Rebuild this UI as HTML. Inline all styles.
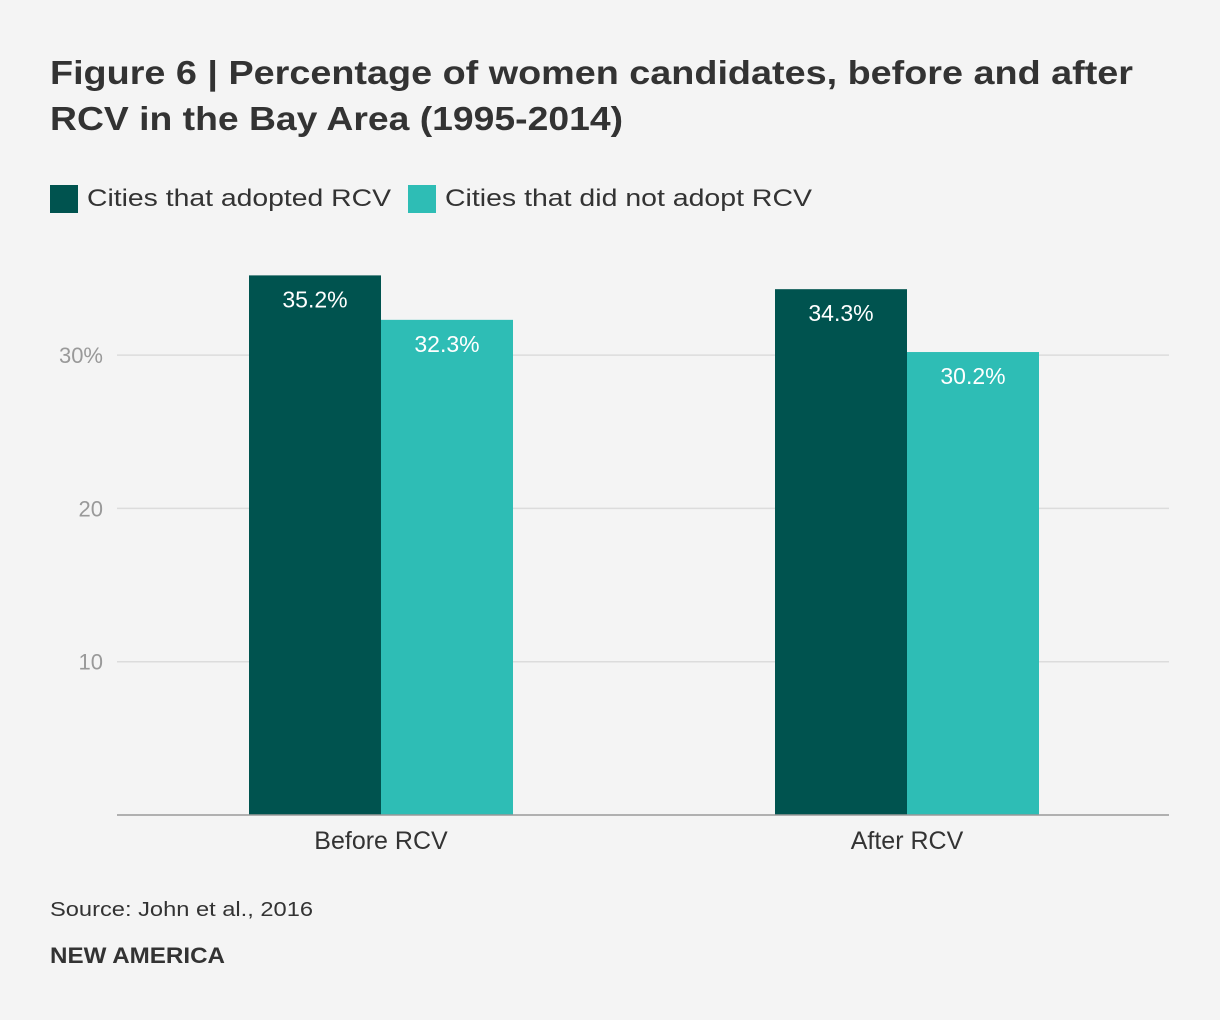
<!DOCTYPE html>
<html><head><meta charset="utf-8"><style>
body{margin:0;background:#f4f4f4;font-family:"Liberation Sans",Arial,sans-serif;}
svg{display:block}
</style></head><body>
<svg width="1220" height="1020">
<rect width="1220" height="1020" fill="#f4f4f4"/>
<text x="50" y="84" font-size="33" font-weight="bold" fill="#333" textLength="1083" lengthAdjust="spacingAndGlyphs">Figure 6 | Percentage of women candidates, before and after</text>
<text x="50" y="130" font-size="33" font-weight="bold" fill="#333" textLength="573" lengthAdjust="spacingAndGlyphs">RCV in the Bay Area (1995-2014)</text>
<g>
<rect x="50" y="185" width="28" height="28" fill="#00534f"/>
<text x="87" y="206" font-size="24" fill="#333" textLength="304" lengthAdjust="spacingAndGlyphs">Cities that adopted RCV</text>
<rect x="408" y="185" width="28" height="28" fill="#2ebdb5"/>
<text x="445" y="206" font-size="24" fill="#333" textLength="367" lengthAdjust="spacingAndGlyphs">Cities that did not adopt RCV</text>
</g>
<g id="plot"></g>
<text x="50" y="916" font-size="20" fill="#333" textLength="263" lengthAdjust="spacingAndGlyphs">Source: John et al., 2016</text>
<text x="50" y="963" font-size="22" font-weight="bold" fill="#333" textLength="175" lengthAdjust="spacingAndGlyphs">NEW AMERICA</text>
</svg>
<script>
const categories = ["Before RCV","After RCV"];
const adopted = [35.2, 34.3];
const notAdopted = [32.3, 30.2];
const ticks = [10, 20, 30];
const tickLabels = ["10","20","30%"];
const NS="http://www.w3.org/2000/svg";
const g=document.getElementById('plot');
const x0=117,x1=1169,yBase=815,pxPer=15.33;
const y=v=>yBase-v*pxPer;
const band=(x1-x0)/categories.length;
const bw=132;
function mk(t,a,txt){const e=document.createElementNS(NS,t);for(const k in a)e.setAttribute(k,a[k]);if(txt!==undefined)e.textContent=txt;g.appendChild(e);return e;}
ticks.forEach((t,i)=>{
 const l=mk('line',{x1:x0,x2:x1,y1:y(t),y2:y(t),stroke:'#dcdcdc','stroke-width':1.5});
 
 
 const tx=mk('text',{x:103,y:y(t)+8,'font-size':22,fill:'#999','text-anchor':'end'},tickLabels[i]);
 
 
});
categories.forEach((c,i)=>{
 const cx=x0+1+band*(i+0.5);
 [[adopted[i],'#00534f',cx-bw,'adopted'],[notAdopted[i],'#2ebdb5',cx,'not-adopted']].forEach(([v,col,bx,nm])=>{
  const r=mk('rect',{x:bx,y:y(v),width:bw,height:yBase-y(v),fill:col});
  
  
  const t=mk('text',{x:bx+bw/2,y:y(v)+32,'font-size':23,fill:'#fff','text-anchor':'middle'},v.toFixed(1)+'%');
  
  
 });
 const cl=mk('text',{x:cx,y:849,'font-size':25,fill:'#333','text-anchor':'middle'},c);
 
 
});
const ax=mk('line',{x1:x0,x2:x1,y1:yBase,y2:yBase,stroke:'#999','stroke-width':1.5});


</script>
</body></html>
